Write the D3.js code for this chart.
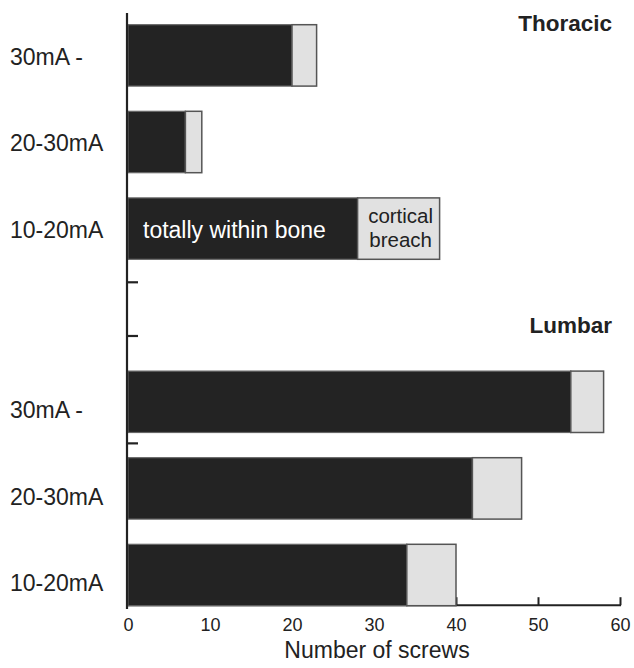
<!DOCTYPE html>
<html>
<head>
<meta charset="utf-8">
<script src="https://cdn.jsdelivr.net/npm/d3@7"></script>
<style>
  html, body { margin: 0; padding: 0; background: #fff; }
  svg text { font-family: "Liberation Sans", Arial, Helvetica, sans-serif; fill: #222; }
</style>
</head>
<body>
<svg id="chart" width="634" height="668"></svg>
<script>
// ---- data ----
const categories = ["30mA -", "20-30mA", "10-20mA"];
const groups = ["Thoracic", "Lumbar"];
const thoracicWithin = [20, 7, 28];
const thoracicBreach = [3, 2, 10];
const lumbarWithin = [54, 42, 34];
const lumbarBreach = [4, 6, 6];
const xTicks = [0, 10, 20, 30, 40, 50, 60];
const yTickSlots = [2.62, 3.24, 4.48];
const seriesNames = ["totally within bone", "cortical breach"];

// ---- build rows ----
const rows = [];
categories.forEach((c, i) => rows.push({ key: "T" + i, group: 0, cat: c, within: thoracicWithin[i], breach: thoracicBreach[i] }));
const slots = rows.map(r => r.key).concat(["gap"]);
categories.forEach((c, i) => {
  rows.push({ key: "L" + i, group: 1, cat: c, within: lumbarWithin[i], breach: lumbarBreach[i] });
  slots.push("L" + i);
});

const svg = d3.select("#chart");
const x0 = 128, x1 = 620, yTop = 24.7, yBase = 605.7;

const x = d3.scaleLinear().domain([0, 60]).range([x0, x1]);
const y = d3.scaleBand().domain(slots).range([yTop, yBase]).paddingInner(0.291).paddingOuter(0);
const step = y.step(), bw = y.bandwidth();
const slotY = d3.scaleLinear().domain([0, 1]).range([yTop + bw / 2, yTop + bw / 2 + step]);

// ---- x axis (drawn first so bars hide inner ticks) ----
const xAxis = d3.axisBottom(x).tickValues(xTicks).tickSize(-8).tickPadding(13).tickFormat(d3.format("d"));
const gx = svg.append("g").attr("transform", `translate(0,${yBase - 0.5})`).call(xAxis);
gx.select(".domain").remove();
gx.selectAll(".tick line").attr("stroke", "#222").attr("stroke-width", 2);
gx.selectAll(".tick text").style("font-size", "18px").attr("fill", "#222");
svg.append("line").attr("x1", x0 - 1).attr("x2", x1 + 1)
  .attr("y1", yBase - 0.5).attr("y2", yBase - 0.5)
  .attr("stroke", "#222").attr("stroke-width", 2);

// ---- bars ----
const barG = svg.append("g");
rows.forEach(r => {
  const yy = y(r.key);
  barG.append("rect")
    .attr("x", x(0)).attr("y", yy)
    .attr("width", x(r.within) - x(0)).attr("height", bw)
    .attr("fill", "#232323").attr("stroke", "#666").attr("stroke-width", 1.2);
  barG.append("rect")
    .attr("x", x(r.within)).attr("y", yy)
    .attr("width", x(r.within + r.breach) - x(r.within)).attr("height", bw)
    .attr("fill", "#e1e1e1").attr("stroke", "#555").attr("stroke-width", 1.5);
});

// ---- y axis ----
svg.append("line").attr("x1", x0 - 1).attr("x2", x0 - 1)
  .attr("y1", 13).attr("y2", 609)
  .attr("stroke", "#222").attr("stroke-width", 2.2);
svg.selectAll(".ytick").data(yTickSlots).enter().append("line")
  .attr("class", "ytick")
  .attr("x1", x0 - 1).attr("x2", x0 + 10)
  .attr("y1", d => slotY(d)).attr("y2", d => slotY(d))
  .attr("stroke", "#222").attr("stroke-width", 2.2);

// ---- category labels ----
const labelShift = [1, 8];
svg.selectAll(".cat").data(rows).enter().append("text")
  .attr("class", "cat")
  .attr("x", 10)
  .attr("y", d => y(d.key) + bw / 2 + labelShift[d.group])
  .attr("dy", "0.36em")
  .style("font-size", "23px")
  .text(d => d.cat);

// ---- group titles ----
svg.append("text").attr("x", 612).attr("y", 31).attr("text-anchor", "end")
  .style("font-size", "22.5px").style("font-weight", "bold").attr("fill", "#333")
  .text(groups[0]);
svg.append("text").attr("x", 612).attr("y", 333).attr("text-anchor", "end")
  .style("font-size", "22.5px").style("font-weight", "bold").attr("fill", "#333")
  .text(groups[1]);

// ---- in-bar series labels (on thoracic 10-20mA bar) ----
const lr = rows[2];
const cy = y(lr.key) + bw / 2;
svg.append("text").attr("x", x(0) + 15).attr("y", cy + 1).attr("dy", "0.36em")
  .style("font-size", "23px").style("fill", "#fff")
  .text(seriesNames[0]);
const bx = (x(lr.within) + x(lr.within + lr.breach)) / 2 + 2;
const bt = svg.append("text").attr("text-anchor", "middle").style("font-size", "20.5px");
bt.append("tspan").attr("x", bx).attr("y", cy - 6).text(seriesNames[1].split(" ")[0]);
bt.append("tspan").attr("x", bx).attr("y", cy + 18).text(seriesNames[1].split(" ")[1]);

// ---- x axis title ----
svg.append("text").attr("x", (x0 + x1) / 2 + 3).attr("y", 658).attr("text-anchor", "middle")
  .style("font-size", "23px").text("Number of screws");
</script>
</body>
</html>
